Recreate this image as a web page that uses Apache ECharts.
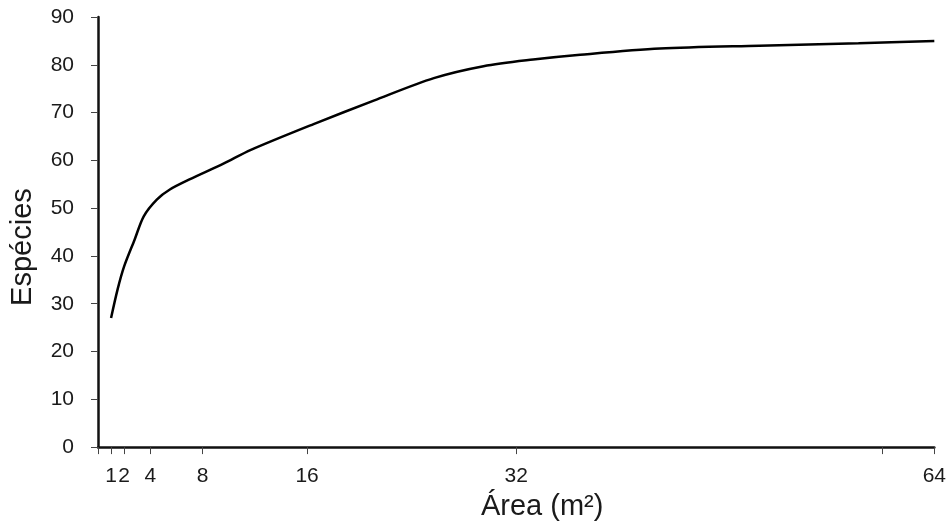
<!DOCTYPE html>
<html>
<head>
<meta charset="utf-8">
<script src="https://cdn.jsdelivr.net/npm/echarts@6/dist/echarts.min.js"></script>
<style>
html,body{margin:0;padding:0;background:#fff;}
#chart{width:949px;height:526px;}
</style>
</head>
<body>
<div id="chart"></div>
<script>
const areaX = [1, 1.5, 2, 2.8, 3.5, 4.5, 5.5, 7, 9.6, 11.7, 16.5, 21.1, 25.7, 29.5, 33.3, 36.9, 43, 50.6, 58.2, 64];
const speciesY = [27, 33, 37.8, 43.4, 48.3, 51.8, 53.9, 56, 59.3, 62.2, 67.6, 72.5, 77.2, 79.7, 81.1, 82.1, 83.4, 84, 84.5, 85];
const xTickValues = [0, 1, 2, 4, 8, 16, 32, 60, 64];
const xLabelValues = [1, 2, 4, 8, 16, 32, 64];
const xTitle = 'Área (m²)';
const yTitle = 'Espécies';

const data = areaX.map((x, i) => [x, speciesY[i]]);
const chart = echarts.init(document.getElementById('chart'));
const font = 'Liberation Sans, Arial, sans-serif';
chart.setOption({
  animation: false,
  backgroundColor: '#fff',
  grid: {left: 97, right: 11, top: 17, bottom: 77, containLabel: false},
  xAxis: {
    type: 'value', min: 0, max: 64,
    name: xTitle, nameLocation: 'middle', nameGap: 42,
    nameTextStyle: {fontFamily: font, fontSize: 29, color: '#1a1a1a', padding: [0, 0, 0, 52]},
    axisLine: {show: true, lineStyle: {color: '#111', width: 2.5}},
    axisTick: {show: true, length: 7, customValues: xTickValues, lineStyle: {color: '#444', width: 1}},
    axisLabel: {customValues: xLabelValues, margin: 19, fontFamily: font, fontSize: 21, color: '#1a1a1a'},
    splitLine: {show: false}
  },
  yAxis: {
    type: 'value', min: 0, max: 90, interval: 10,
    name: yTitle, nameLocation: 'middle', nameGap: 61,
    nameTextStyle: {fontFamily: font, fontSize: 29, color: '#1a1a1a', padding: [0, 30, 0, 0]},
    axisLine: {show: true, lineStyle: {color: '#111', width: 2.5}},
    axisTick: {show: true, length: 7, lineStyle: {color: '#444', width: 1}},
    axisLabel: {margin: 24, fontFamily: font, fontSize: 21, color: '#1a1a1a'},
    splitLine: {show: false}
  },
  series: [{
    type: 'line', data: data, smooth: 0.3, symbol: 'none',
    lineStyle: {color: '#000', width: 2.5}
  }]
});
</script>
</body>
</html>
